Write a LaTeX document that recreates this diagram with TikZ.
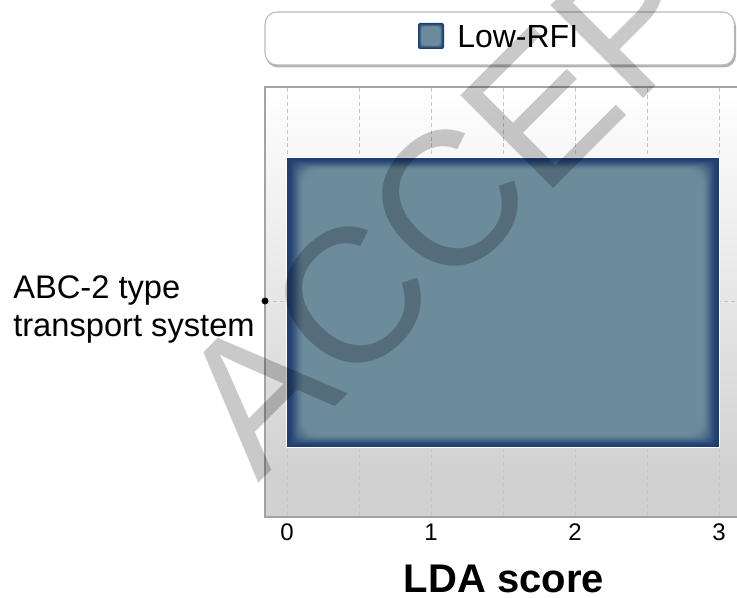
\documentclass[tikz,border=0pt]{standalone}
\usepackage{fontspec}
\setmainfont{Liberation Sans}
\definecolor{barfill}{HTML}{6C8B9B}
\definecolor{bardark}{HTML}{1F3D70}
\definecolor{panelgray}{HTML}{D1D1D1}
\definecolor{gridgray}{HTML}{C6C6C6}
\definecolor{framegray}{HTML}{A3A3A3}
\begin{document}
\begin{tikzpicture}[x=0.75pt,y=-0.75pt,
  gridline/.style={draw=gridgray, line width=0.75pt, dash pattern=on 3pt off 2.2pt},
  ticklabel/.style={font=\fontsize{18}{20}\selectfont, inner sep=0pt, anchor=base},
  axistitle/.style={font=\bfseries\fontsize{30}{34}\selectfont, inner sep=0pt, anchor=base},
  catlabel/.style={font=\fontsize{24.5}{28.5}\selectfont, inner sep=0pt, align=left, anchor=base west},
  keylabel/.style={font=\fontsize{24}{28}\selectfont, inner sep=0pt, anchor=base west},
  stamp/.style={font=\fontsize{143}{150}\selectfont, text=black, text opacity=0.21,
                rotate=45, anchor=base west, inner sep=0pt}]
\useasboundingbox (0,0) rectangle (737,598);
\begin{scope}
\clip (0,0) rectangle (737,598);

% plot panel with vertical gradient
\fill[top color=white, bottom color=panelgray] (265,87) rectangle (745,476);
\fill[panelgray] (265,475.5) rectangle (745,517);
\draw[framegray, line width=0.8pt] (745,87) -- (265,87) -- (265,517) -- (745,517);

% dashed grid
\foreach \k in {0,...,6}
  \draw[gridline] ({287+72*\k},88) -- ({287+72*\k},516);
\draw[gridline] (266,301) -- (745,301);

% bar with soft inner shadow
\fill[white] (285.6,156.6) rectangle (720.4,448.4);
\fill[bardark] (287,158) rectangle (719,447);
\foreach \i in {1,...,18} {
  \pgfmathsetmacro\pc{100*(1-cos(180*\i/18))/2}
  \fill[barfill!\pc!bardark, rounded corners={\i*0.8pt}]
    ({287+\i*0.95},{158+\i*0.7}) rectangle ({719-\i*0.95},{447-\i*0.7});
}

% category marker
\fill[black] (265,301) circle[radius=2.6pt];

% legend box
\fill[gray!60, rounded corners=9pt] (266,14.5) rectangle (736,67.5);
\filldraw[fill=white, draw=gray!55, line width=0.8pt, rounded corners=9pt]
  (265,12) rectangle (734.5,65);
\fill[bardark, rounded corners=1.5pt] (418,23) rectangle (444,49);
\foreach \i in {1,...,5} {
  \pgfmathsetmacro\pc{100*(1-cos(180*\i/5))/2}
  \fill[barfill!\pc!bardark, rounded corners={\i*0.6pt}]
    ({418+\i*0.8},{23+\i*0.8}) rectangle ({444-\i*0.8},{49-\i*0.8});
}
\node[keylabel] (key) at (457,48) {Low-RFI};

% labels (anchored on the baseline of the last line)
\node[catlabel] (cat) at (13,336) {ABC-2 type\\transport system};
\node[ticklabel] (t0) at (287,540) {0};
\node[ticklabel] (t1) at (431,540) {1};
\node[ticklabel] (t2) at (575,540) {2};
\node[ticklabel] (t3) at (719,540) {3};
\node[axistitle] (xt) at (504,592) {LDA score};

% watermark
\node[stamp] (wm) at (258,484) {ACCEPTED};
\end{scope}
\end{tikzpicture}
\end{document}
